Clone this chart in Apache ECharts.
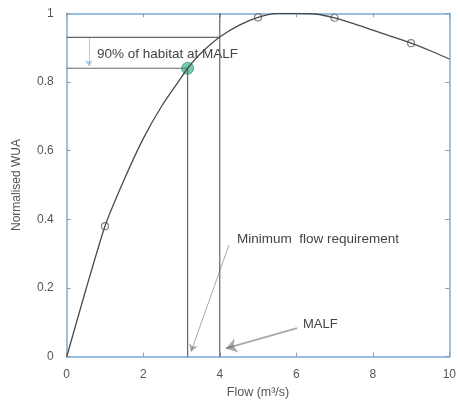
<!DOCTYPE html>
<html>
<head>
<meta charset="utf-8">
<script src="https://cdn.jsdelivr.net/npm/echarts@6/dist/echarts.min.js"></script>
<style>
  html, body { margin: 0; padding: 0; background: #fff; }
  #chart { width: 459px; height: 405px; }
</style>
</head>
<body>
<div id="chart"></div>
<script>
// Habitat (normalised WUA) versus flow curve
const flow = [0, 0.5, 1, 1.5, 2, 2.5, 3, 3.16, 3.5, 4, 4.5, 5, 5.5, 6, 6.5, 7, 7.5, 8, 8.5, 9, 9.5, 10];
const wua  = [0, 0.195, 0.38, 0.515, 0.635, 0.733, 0.814, 0.84, 0.883, 0.931, 0.965, 0.988, 1.0, 1.0, 0.998, 0.987, 0.97, 0.951, 0.932, 0.913, 0.891, 0.867];

// Measured points (open circles)
const sampleFlow = [1, 5, 7, 9];
const sampleWua  = [0.38, 0.988, 0.987, 0.913];

// Key values
const malf = 4.0;
const wuaAtMalf = 0.93;
const minFlow = 3.16;
const wua90 = 0.84;

const xTicks = [0, 2, 4, 6, 8, 10];
const yTicks = [0, 0.2, 0.4, 0.6, 0.8, 1];

const axisBlue = '#78acd9';
const textGray = '#555';
const lineGray = '#666';
const font = 'Liberation Sans';

const chart = echarts.init(document.getElementById('chart'), null, { renderer: 'canvas' });

const commonAxis = {
  axisLine: { show: true, onZero: false, lineStyle: { color: axisBlue, width: 1.5 } },
  axisTick: { show: true, inside: true, length: 4, lineStyle: { color: '#999' } },
  splitLine: { show: false }
};

chart.setOption({
  animation: false,
  grid: { left: 66.7, top: 13.3, width: 385, height: 343.4 },
  xAxis: [
    Object.assign({
      type: 'value', min: xTicks[0], max: xTicks[xTicks.length - 1], interval: 2,
      position: 'bottom',
      name: 'Flow (m³/s)', nameLocation: 'middle', nameGap: 29,
      nameTextStyle: { color: textGray, fontSize: 12.5, fontFamily: font },
      axisLabel: { color: textGray, fontSize: 12, margin: 12, fontFamily: font }
    }, commonAxis),
    Object.assign({
      type: 'value', min: xTicks[0], max: xTicks[xTicks.length - 1], interval: 2,
      position: 'top', axisLabel: { show: false }
    }, commonAxis)
  ],
  yAxis: [
    Object.assign({
      type: 'value', min: yTicks[0], max: yTicks[yTicks.length - 1], interval: 0.2,
      position: 'left',
      name: 'Normalised WUA', nameLocation: 'middle', nameGap: 44,
      nameTextStyle: { color: textGray, fontSize: 12, fontFamily: font },
      axisLabel: { color: textGray, fontSize: 12, margin: 13, fontFamily: font }
    }, commonAxis),
    Object.assign({
      type: 'value', min: yTicks[0], max: yTicks[yTicks.length - 1], interval: 0.2,
      position: 'right', axisLabel: { show: false }
    }, commonAxis)
  ],
  series: [
    // Reference lines for MALF and the minimum flow requirement
    {
      type: 'line', silent: true, symbol: 'none',
      lineStyle: { color: lineGray, width: 1.2 },
      data: [[0, wuaAtMalf], [malf, wuaAtMalf]]
    },
    {
      type: 'line', silent: true, symbol: 'none',
      lineStyle: { color: lineGray, width: 1.2 },
      data: [[malf, 0], [malf, 1]]
    },
    {
      type: 'line', silent: true, symbol: 'none',
      lineStyle: { color: lineGray, width: 1.2 },
      data: [[0, wua90], [minFlow, wua90]]
    },
    {
      type: 'line', silent: true, symbol: 'none',
      lineStyle: { color: lineGray, width: 1.2 },
      data: [[minFlow, 0], [minFlow, wua90]]
    },
    // Habitat curve
    {
      type: 'line', smooth: 0.2, symbol: 'none',
      lineStyle: { color: '#4a4a4a', width: 1.3 },
      data: flow.map((f, i) => [f, wua[i]])
    },
    {
      type: 'scatter', symbol: 'circle', symbolSize: 7,
      itemStyle: { color: '#fff', borderColor: '#666', borderWidth: 1.2 },
      data: sampleFlow.map((f, i) => [f, sampleWua[i]])
    },
    {
      type: 'scatter', symbol: 'circle', symbolSize: 12,
      itemStyle: { color: '#4fc39a', borderColor: '#2f7f66', borderWidth: 0.8 },
      data: [[minFlow, wua90]]
    },
    // Annotation arrows
    {
      type: 'lines', coordinateSystem: 'cartesian2d', silent: true,
      symbol: ['none', 'arrow'], symbolSize: 6,
      lineStyle: { color: '#4d9fd6', width: 1 },
      data: [{ coords: [[0.58, 0.928], [0.58, 0.846]] }]
    },
    {
      type: 'lines', coordinateSystem: 'cartesian2d', silent: true,
      symbol: ['none', 'arrow'], symbolSize: 7,
      lineStyle: { color: '#555', width: 1 },
      data: [{ coords: [[4.24, 0.325], [3.25, 0.015]] }]
    },
    {
      type: 'lines', coordinateSystem: 'cartesian2d', silent: true,
      symbol: ['none', 'arrow'], symbolSize: 11,
      lineStyle: { color: '#555', width: 1.8 },
      data: [{ coords: [[6.02, 0.083], [4.16, 0.024]] }]
    }
  ],
  graphic: [
    {
      type: 'text', left: 97, top: 47,
      style: { text: '90% of habitat at MALF', fill: '#444', fontSize: 13.5, fontFamily: font }
    },
    {
      type: 'text', left: 237, top: 232,
      style: { text: 'Minimum  flow requirement', fill: '#444', fontSize: 13.5, fontFamily: font }
    },
    {
      type: 'text', left: 303, top: 318,
      style: { text: 'MALF', fill: '#444', fontSize: 13, fontFamily: font }
    }
  ]
});
</script>
</body>
</html>
